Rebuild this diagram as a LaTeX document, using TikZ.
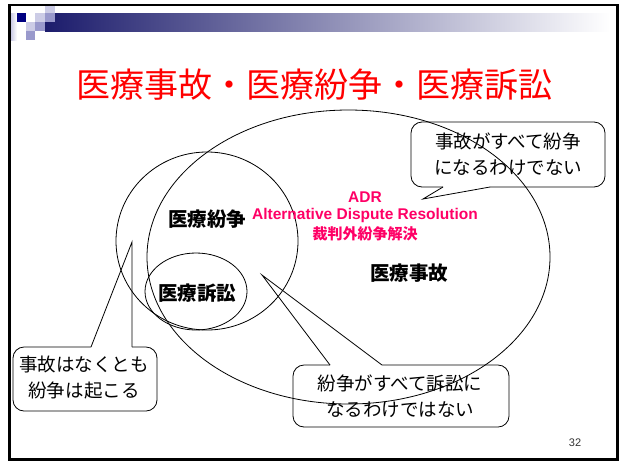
\documentclass[tikz,border=0pt]{standalone}
\usepackage{fontspec}
\setmainfont{Liberation Sans}
\newfontfamily\jp{Noto Sans CJK JP}
\definecolor{navyA}{HTML}{000080}
\definecolor{barL}{HTML}{1C1C6C}
\definecolor{lavL}{HTML}{CCCCE6}
\definecolor{lavM}{HTML}{9999CC}
\definecolor{titleRed}{HTML}{FF0000}
\definecolor{adrPink}{HTML}{FF0066}
\begin{document}
\begin{tikzpicture}[x=1pt,y=-1pt,
  titlestyle/.style={inner sep=0pt, text=titleRed, font=\jp\fontsize{34}{40}\selectfont},
  lbl/.style={inner sep=0pt, font=\jp\bfseries\fontsize{19.5}{22}\selectfont},
  adr/.style={inner sep=0pt, text=adrPink, font=\bfseries\fontsize{15.5}{18}\selectfont},
  adrjp/.style={inner sep=0pt, text=adrPink, font=\jp\bfseries\fontsize{15}{18}\selectfont},
  call/.style={inner sep=0pt, align=center, font=\jp\fontsize{18.5}{26}\selectfont},
  outline/.style={line width=0.8pt, black},
  calloutline/.style={line width=0.8pt, black, rounded corners=11pt}]
\useasboundingbox (0,0) rectangle (620,461);
\fill[white] (0,0) rectangle (620,461);
% header decoration
\shade[left color=barL, right color=white] (45,13) rectangle (610,31);
\shade[left color=lavL, right color=white] (11,13) rectangle (17,40);
\fill[navyA] (17,13) rectangle (26,22);
\fill[lavL] (45,4) rectangle (55,13);
\fill[lavM] (45,13) rectangle (55,22);
\fill[lavL] (35,13) rectangle (45,22);
\fill[lavM] (35,22) rectangle (45,31);
\fill[lavL] (26,22) rectangle (35,31);
\fill[lavM] (26,31) rectangle (35,40);
% frame
\draw[line width=2.5pt] (9.5,5) rectangle (617.5,459.5);
% title
\node[titlestyle] (title) at (314,85) {医療事故・医療紛争・医療訴訟};
% ellipses
\draw[outline] (348.5,257) ellipse [x radius=201.5, y radius=147];
\draw[outline] (207,241) ellipse [x radius=91, y radius=89];
\draw[outline] (196,291.5) ellipse [x radius=51, y radius=38.5];
% labels
\node[lbl] (funso) at (207,219) {医療紛争};
\node[lbl] (sosho) at (197,293) {医療訴訟};
\node[lbl] (jiko) at (409,273) {医療事故};
\node[adr] (adr) at (365,197) {ADR};
\node[adr] (alt) at (365,215.5) {Alternative Dispute Resolution};
\node[adrjp] (saiban) at (365,233.5) {裁判外紛争解決};
% callout A
\coordinate (tipA) at (423,199);
\draw[calloutline] (443,187) -- (411,187) -- (411,122) -- (605,122) -- (605,187) -- (490,187);
\draw[outline] (490,187) -- (tipA) -- (443,187);
\node[call] (cA) at (508,154) {事故がすべて紛争\\になるわけでない};
% callout B
\coordinate (tipB) at (132,242);
\draw[calloutline] (91,347) -- (13,347) -- (13,411) -- (157,411) -- (157,347) -- (132,347);
\draw[outline] (91,347) -- (tipB) -- (132,347);
\node[call] (cB) at (84,377.5) {事故はなくとも\\紛争は起こる};
% callout C
\coordinate (tipC) at (262,275);
\draw[calloutline] (330,365) -- (293,365) -- (293,427) -- (509,427) -- (509,365) -- (382,365);
\draw[outline] (330,365) -- (tipC) -- (382,365);
\node[call] (cC) at (400,396.5) {紛争がすべて訴訟に\\なるわけではない};
% page number
\node[inner sep=0pt, text=black!80, font=\fontsize{11}{13}\selectfont] (pg) at (575,443) {32};
\end{tikzpicture}
\end{document}
